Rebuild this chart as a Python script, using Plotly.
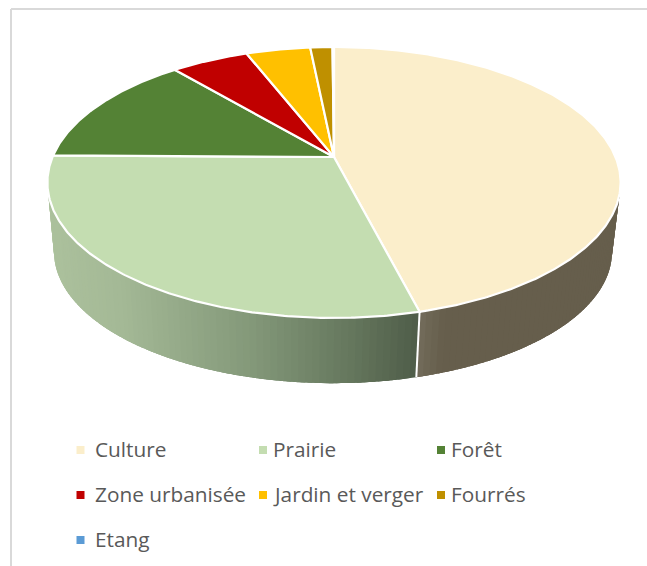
import numpy as np
import plotly.graph_objects as go

categories = ["Culture", "Prairie", "Forêt", "Zone urbanisée", "Jardin et verger", "Fourrés", "Etang"]
shares = [46.0, 29.2, 13.6, 5.25, 4.35, 1.5, 0.1]
colors = ["#FBEECB", "#C4DDB1", "#548235", "#C00000", "#FFC000", "#BF9000", "#5B9BD5"]

W, H = 647, 566
# projective view of the pie: (apex x, apex y, half width, half depth, perspective)
TOP = (334.0, 157.0, 281.5, 130.7, 0.188)
BOTTOM = (333.0, 227.0, 274.0, 126.8, 0.188)
VISIBLE = (100.0, 260.0)

# wall shading, by screen x
wall_stops = {
    "Culture": ([417, 424, 445, 620], [(120, 113, 98), (112, 105, 88), (103, 95, 77), (102, 94, 76)]),
    "Prairie": ([50, 120, 250, 350, 417], [(172, 193, 157), (164, 185, 150), (132, 153, 122), (102, 120, 94), (80, 94, 74)]),
}


def project(theta_deg, plane):
    cx, cy, b, a, k = plane
    t = np.radians(np.asarray(theta_deg, dtype=float))
    X, Y = np.sin(t), -np.cos(t)
    w = 1 - k * Y
    return cx + b * X / w, cy + a * Y / w


def shade(x, stops):
    xs, cols = stops
    return "rgb(%d,%d,%d)" % tuple(np.interp(x, xs, [c[i] for c in cols]) for i in range(3))


fig = go.Figure()
edges = np.concatenate([[0], np.cumsum(shares) / np.sum(shares) * 360])

# side wall: each strip runs under the next one so no seams show
for i, name in enumerate(categories):
    lo, hi = max(edges[i], VISIBLE[0]), min(edges[i + 1], VISIBLE[1])
    if lo >= hi or name not in wall_stops:
        continue
    th = np.linspace(lo, hi, int((hi - lo) / 1.2) + 2)
    for t0, t1 in zip(th[:-1], th[1:]):
        end = np.linspace(t0, hi if t1 + 2 > hi else t1 + 2, 4)
        x0, y0 = project(end, TOP)
        x1, y1 = project(end[::-1], BOTTOM)
        xm = np.mean(project([(t0 + t1) / 2], TOP)[0])
        col = shade(xm, wall_stops[name])
        fig.add_trace(go.Scatter(
            x=list(x0) + list(x1), y=list(y0) + list(y1), mode="none", fill="toself",
            fillcolor=col, hoverinfo="skip", showlegend=False))

# separators on the wall
for e in edges[1:-1]:
    if VISIBLE[0] < e < VISIBLE[1]:
        xt, yt = project([e], TOP)
        xb, yb = project([e], BOTTOM)
        fig.add_trace(go.Scatter(
            x=[xt[0], xb[0]], y=[yt[0], yb[0]], mode="lines",
            line=dict(color="white", width=2), hoverinfo="skip", showlegend=False))

# top face
for i, name in enumerate(categories):
    th = np.linspace(edges[i], edges[i + 1], max(3, int((edges[i + 1] - edges[i]) * 2)))
    xs, ys = project(th, TOP)
    fig.add_trace(go.Scatter(
        x=[TOP[0]] + list(xs) + [TOP[0]], y=[TOP[1]] + list(ys) + [TOP[1]],
        mode="lines", fill="toself", fillcolor=colors[i],
        line=dict(color="white", width=2.2), name=name, hoverinfo="name", showlegend=False))

# legend
swatch_x = [80.5, 263, 441]
text_x = [93, 271, 449]
leg_rows = [450, 495, 540]
for i, name in enumerate(categories):
    col, ly = i % 3, leg_rows[i // 3]
    fig.add_trace(go.Scatter(
        x=[swatch_x[col]], y=[ly], mode="markers", marker=dict(symbol="square", size=8, color=colors[i]),
        name=name, hoverinfo="name", showlegend=False))
    fig.add_annotation(x=text_x[col], y=ly - 1.5, text=name, showarrow=False,
                       xanchor="left", yanchor="middle", xref="x", yref="y",
                       font=dict(family="Open Sans", size=20.8, color="#595959"))

fig.update_layout(
    width=W, height=H, margin=dict(l=0, r=0, t=0, b=0),
    paper_bgcolor="white", plot_bgcolor="white", showlegend=False,
    xaxis=dict(range=[0, W], visible=False, fixedrange=True),
    yaxis=dict(range=[H, 0], visible=False, fixedrange=True),
    shapes=[
        dict(type="line", xref="x", yref="y", x0=11, x1=11, y0=9, y1=H, line=dict(color="#D9D9D9", width=2)),
        dict(type="line", xref="x", yref="y", x0=11, x1=W, y0=9, y1=9, line=dict(color="#D9D9D9", width=2)),
    ],
)
fig.write_html("out.html", config=dict(displayModeBar=False),
               post_script="document.body.style.margin='0';document.body.style.overflow='hidden';")
